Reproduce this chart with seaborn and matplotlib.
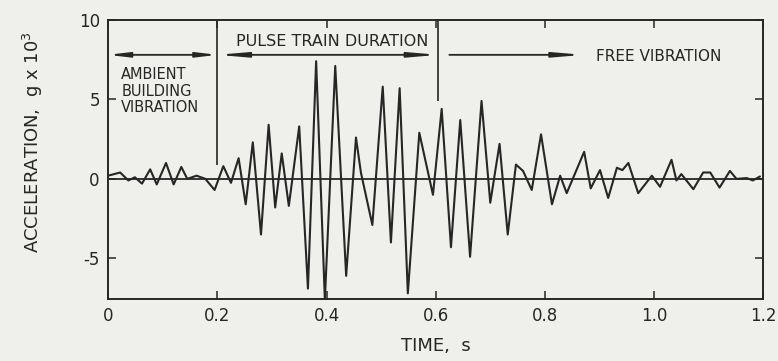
import matplotlib
matplotlib.use("Agg")
import matplotlib.pyplot as plt
import seaborn as sns
import pandas as pd

# ---- data ----
time_s = [0.000, 0.022, 0.037, 0.049, 0.062, 0.077, 0.089, 0.106, 0.120, 0.134,
          0.145, 0.162, 0.178, 0.195, 0.211, 0.225, 0.239, 0.252, 0.265, 0.280,
          0.294, 0.306, 0.318, 0.331, 0.350, 0.366, 0.381, 0.397, 0.416, 0.436,
          0.454, 0.463, 0.484, 0.503, 0.518, 0.534, 0.549, 0.570, 0.595, 0.611,
          0.628, 0.645, 0.663, 0.684, 0.700, 0.717, 0.732, 0.747, 0.760, 0.776,
          0.793, 0.813, 0.828, 0.840, 0.872, 0.884, 0.901, 0.916, 0.932, 0.942,
          0.953, 0.971, 0.996, 1.011, 1.032, 1.041, 1.050, 1.072, 1.090, 1.103,
          1.120, 1.139, 1.151, 1.170, 1.181, 1.194]
accel = [0.2, 0.4, -0.1, 0.1, -0.3, 0.6, -0.35, 1.0, -0.35, 0.75,
         0.0, 0.2, 0.0, -0.7, 0.8, -0.25, 1.3, -1.6, 2.3, -3.5,
         3.4, -1.8, 1.6, -1.7, 3.3, -6.9, 7.4, -7.6, 7.1, -6.1,
         2.6, 0.4, -2.9, 5.8, -4.0, 5.7, -7.2, 2.9, -1.0, 4.4,
         -4.3, 3.7, -4.9, 4.9, -1.5, 2.2, -3.5, 0.9, 0.5, -0.7,
         2.8, -1.6, 0.2, -0.9, 1.7, -0.6, 0.55, -1.2, 0.7, 0.55,
         1.0, -0.9, 0.2, -0.5, 1.2, -0.1, 0.3, -0.65, 0.4, 0.4,
         -0.55, 0.5, 0.0, 0.05, -0.1, 0.15]

x_ticks = [0, 0.2, 0.4, 0.6, 0.8, 1.0, 1.2]
x_tick_labels = ["0", "0.2", "0.4", "0.6", "0.8", "1.0", "1.2"]
y_ticks = [-5, 0, 5, 10]
y_tick_labels = ["-5", "0", "5", "10"]

phase_bounds = [0.2, 0.605]
annot_level = 7.8

df = pd.DataFrame({"time": time_s, "accel": accel})

sns.set_theme(style="ticks")
plt.rcParams["font.family"] = ["DejaVu Sans"]
ink = "#262626"
bg = "#efefec"

fig = plt.figure(figsize=(7.78, 3.61), dpi=100, facecolor=bg)
ax = fig.add_axes([0.139, 0.172, 0.842, 0.773])
ax.set_facecolor(bg)

sns.lineplot(data=df, x="time", y="accel", ax=ax, color=ink, lw=1.5, sort=False)
ax.axhline(0, color=ink, lw=1.3, zorder=1)

# phase boundaries
ax.vlines(phase_bounds[0], 0.9, 10, color=ink, lw=1.2)
ax.vlines(phase_bounds[1], 4.9, 10, color=ink, lw=1.2)

arrow_kw = dict(color=ink, lw=1.3, shrinkA=0, shrinkB=0)
ax.annotate("", xy=(0.0, annot_level), xytext=(phase_bounds[0], annot_level),
            arrowprops=dict(arrowstyle="<|-|>,head_length=1.0,head_width=0.12", **arrow_kw))
ax.annotate("", xy=(phase_bounds[0], annot_level), xytext=(phase_bounds[1], annot_level),
            arrowprops=dict(arrowstyle="<|-|>,head_length=1.4,head_width=0.12", **arrow_kw))
ax.annotate("", xy=(0.87, annot_level), xytext=(0.625, annot_level),
            arrowprops=dict(arrowstyle="-|>,head_length=1.4,head_width=0.12", **arrow_kw))

ax.text(0.411, 8.65, "PULSE TRAIN DURATION", ha="center", va="center",
        fontsize=11.5, color=ink)
ax.text(0.024, 7.05, "AMBIENT\nBUILDING\nVIBRATION", ha="left", va="top",
        fontsize=10.5, color=ink, linespacing=1.15)
ax.text(0.893, 7.7, "FREE VIBRATION", ha="left", va="center",
        fontsize=11, color=ink)

ax.set_xlim(0, 1.2)
ax.set_ylim(-7.55, 10)
ax.set_xticks(x_ticks)
ax.set_xticklabels(x_tick_labels)
ax.set_yticks(y_ticks)
ax.set_yticklabels(y_tick_labels)
ax.tick_params(direction="in", length=6, width=1.1, colors=ink, labelsize=12,
               top=True, right=True, pad=6)
for s in ax.spines.values():
    s.set_color(ink)
    s.set_linewidth(1.4)

ax.set_xlabel("TIME,  s", fontsize=13, color=ink)
ax.set_ylabel("ACCELERATION,  g x 10$^3$", fontsize=13, color=ink)
ax.xaxis.set_label_coords(0.5, -0.138)
ax.yaxis.set_label_coords(-0.097, 0.56)

fig.savefig("out.png", dpi=100, facecolor=bg)
